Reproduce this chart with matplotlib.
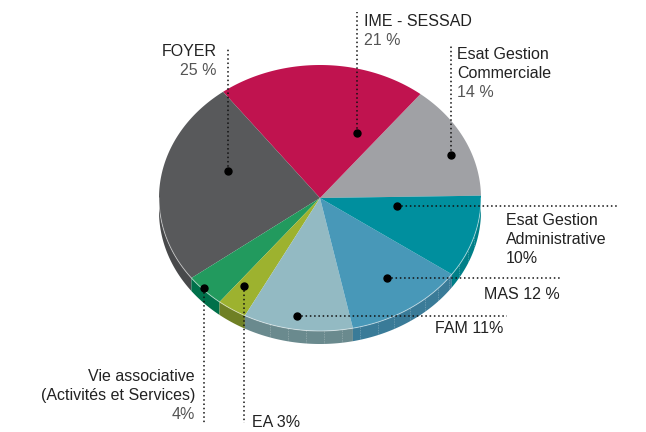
import numpy as np
import matplotlib.pyplot as plt
from matplotlib.patches import Polygon

plt.rcParams['font.family'] = ['Liberation Sans', 'DejaVu Sans']

# slices, counterclockwise from the right
names = ["Esat Gestion\nCommerciale", "IME - SESSAD", "FOYER",
         "Vie associative\n(Activités et Services)", "EA", "FAM", "MAS",
         "Esat Gestion\nAdministrative"]
values = [14, 21, 25, 4, 3, 11, 12, 10]
pct_text = ["14 %", "21 %", "25 %", "4%", "3%", "11%", "12 %", "10%"]

top_colors = ["#a0a1a5", "#c0134f", "#58595b", "#229a5e", "#9db22f",
              "#93bac3", "#4898b8", "#008f9e"]
side_colors = ["#87888c", "#9a0f3f", "#48494b", "#00704a", "#6f8025",
               "#6a8a8e", "#3a7b98", "#007f88"]

# layout: dot, end of leader, text anchor, alignment, pct inline?, pct colour
layout = [
    ((451, 155), (451, 45), (457, 59), 'left', False, '#555555'),
    ((357, 133), (357, 12), (364, 26), 'left', False, '#555555'),
    ((228, 171), (228, 47), (217, 56), 'right', False, '#555555'),
    ((204, 288), (204, 423), (195, 381), 'right', False, '#555555'),
    ((244, 286), (244, 423), (252, 427), 'left', True, '#222222'),
    ((297, 316), (507, 316), (435, 333), 'left', True, '#222222'),
    ((387, 278), (562, 278), (484, 299), 'left', True, '#222222'),
    ((397, 206), (617, 206), (506, 225), 'left', False, '#222222'),
]

cx, cy, rx, ry, depth = 320, 198, 161, 133, 13
start = 1.0

fig = plt.figure(figsize=(6.46, 4.32), dpi=100)
ax = fig.add_axes([0, 0, 1, 1])
ax.set_xlim(0, 646)
ax.set_ylim(432, 0)
ax.axis('off')


def rim(t1, t2, dy=0):
    t = np.radians(np.linspace(t1, t2, 120))
    return np.column_stack([cx + rx * np.cos(t), cy - ry * np.sin(t) + dy])


bounds = start + 360 * np.concatenate([[0], np.cumsum(values)]) / sum(values)

# side of the pie (front half only)
for i in range(len(values)):
    a, b = bounds[i], bounds[i + 1]
    s, e = max(a, 180), min(b, 360)
    if e > s:
        pts = np.vstack([rim(s, e), rim(e, s, depth)])
        ax.add_patch(Polygon(pts, closed=True, fc=side_colors[i], ec='none'))

# faint facet lines on the side
for t in np.arange(252, 346, 6.5):
    p = rim(t, t)[0]
    ax.plot([p[0], p[0]], [p[1], p[1] + depth], color='white', lw=0.5,
            alpha=0.3, ls=(0, (2, 1.5)))

# top face
for i in range(len(values)):
    pts = np.vstack([[cx, cy], rim(bounds[i], bounds[i + 1])])
    ax.add_patch(Polygon(pts, closed=True, fc=top_colors[i], ec='none'))

# light rim between top and side
r = rim(180, 360)
ax.plot(r[:, 0], r[:, 1], color='white', lw=0.7, alpha=0.5)

# leaders and labels
for i in range(len(values)):
    dot, end, txt, ha, inline, pcol = layout[i]
    ax.plot([dot[0], end[0]], [dot[1], end[1]], color='#111111', lw=1.1,
            ls=(0, (1, 1.8)))
    ax.plot(dot[0], dot[1], 'o', color='black', ms=5)
    if inline:
        lines = [(names[i] + " " + pct_text[i], '#222222')]
    else:
        lines = [(s, '#222222') for s in names[i].split("\n")]
        lines.append((pct_text[i], pcol))
    for k, (s, c) in enumerate(lines):
        ax.text(txt[0], txt[1] + 19 * k, s, ha=ha, va='baseline',
                fontsize=11.5, color=c)

fig.savefig("out.png", dpi=100)
